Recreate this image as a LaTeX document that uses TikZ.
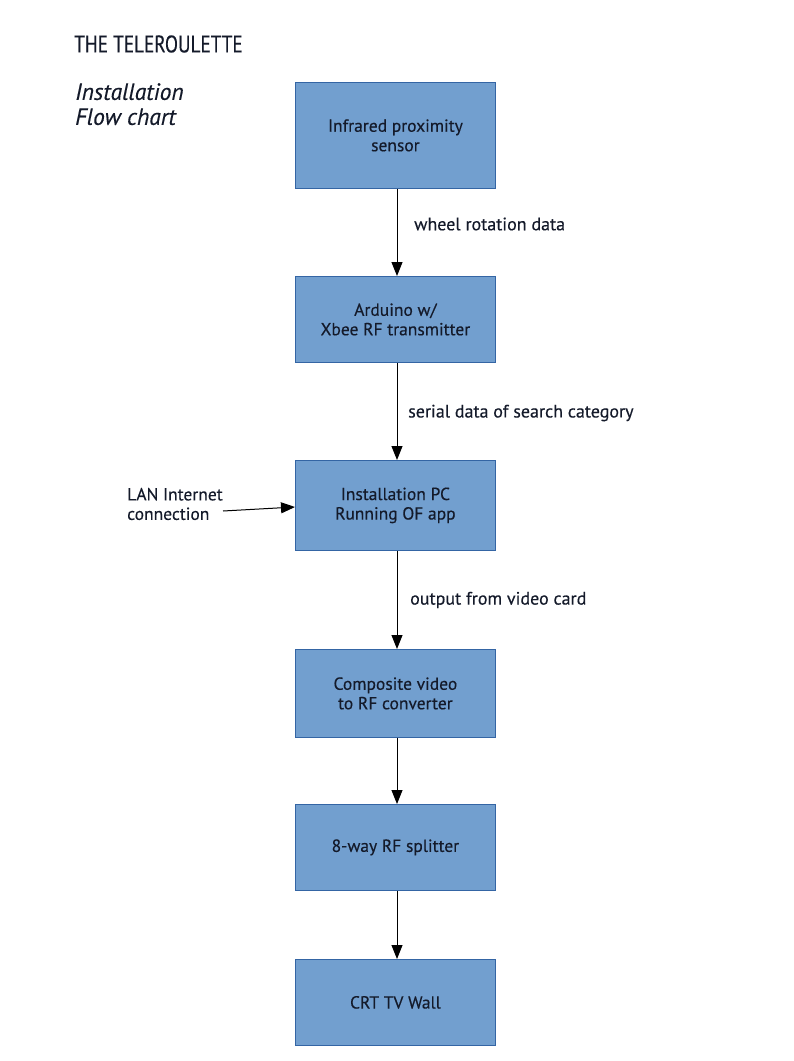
\documentclass[tikz,border=0pt]{standalone}
\usepackage{fontspec}
\setmainfont{PT Sans}[FakeBold=0.3]
\newfontfamily\headfont{PT Sans}[FakeStretch=0.8,FakeBold=0.3]
\usetikzlibrary{arrows.meta}
\definecolor{boxfill}{HTML}{729FCF}
\definecolor{boxline}{HTML}{3465A4}
\definecolor{ink}{HTML}{141A2A}
\begin{document}
\begin{tikzpicture}[x=1pt,y=-1pt,
  stepbox/.style={draw=boxline, fill=boxfill, line width=0.8pt, minimum width=200pt,
    inner sep=0pt, align=center, text=ink, font=\fontsize{17.5}{19.5}\selectfont},
  flow/.style={line width=1pt, -{Triangle[width=11pt,length=14pt]}},
  lbl/.style={anchor=west, text=ink, font=\fontsize{18}{19.5}\selectfont, inner sep=0pt}]
\useasboundingbox (0,0) rectangle (794,1061);
% heading
\node[anchor=west, inner sep=0pt, text=ink, font=\headfont\fontsize{24}{26}\selectfont] (title) at (74,44) {THE TELEROULETTE};
\node[anchor=north west, inner sep=0pt, align=left, text=ink, font=\fontsize{23.5}{25}\selectfont\itshape] (sub) at (75,83) {Installation\\Flow chart};
% boxes
\node[stepbox, minimum height=106pt, anchor=north west] (b1) at (295,82) {Infrared proximity\\sensor};
\node[stepbox, minimum height=86pt, anchor=north west] (b2) at (295,276) {Arduino w/\\Xbee RF transmitter};
\node[stepbox, minimum height=90pt, anchor=north west] (b3) at (295,460) {Installation PC\\Running OF app};
\node[stepbox, minimum height=88pt, anchor=north west] (b4) at (295,649) {Composite video\\to RF converter};
\node[stepbox, minimum height=86pt, anchor=north west] (b5) at (295,804) {8-way RF splitter};
\node[stepbox, minimum height=86pt, anchor=north west] (b6) at (295,959) {CRT TV Wall};
% connectors
\draw[flow] (b1.south -| 397,0) -- (b2.north -| 397,0);
\draw[flow] (b2.south -| 397,0) -- (b3.north -| 397,0);
\draw[flow] (b3.south -| 397,0) -- (b4.north -| 397,0);
\draw[flow] (b4.south -| 397,0) -- (b5.north -| 397,0);
\draw[flow] (b5.south -| 397,0) -- (b6.north -| 397,0);
% side input
\node[anchor=west, inner sep=0pt, align=left, text=ink, font=\fontsize{17.5}{19.5}\selectfont] (lan) at (127,504) {LAN Internet\\connection};
\coordinate (lanend) at (223,511);
\draw[flow] (lanend) -- (b3.west |- 0,507);
% connector labels
\node[lbl] (l1) at (414,224) {wheel rotation data};
\node[lbl] (l2) at (408,413) {serial data of search category};
\node[lbl] (l3) at (410,600) {output from video card};
\end{tikzpicture}
\end{document}
